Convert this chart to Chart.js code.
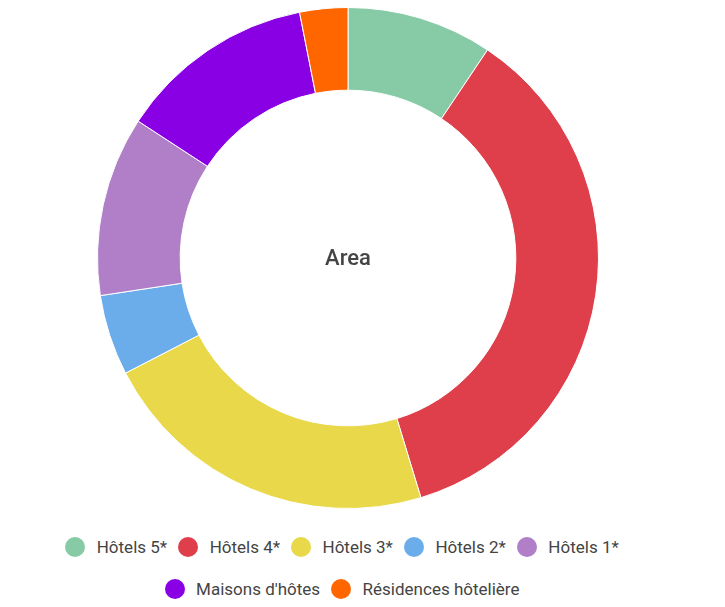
<!DOCTYPE html>
<html>
<head>
<meta charset="utf-8">
<script src="https://cdn.jsdelivr.net/npm/chart.js@4"></script>
<style>
  body { margin: 0; background: #fff; font-family: Roboto, sans-serif; }
  #wrap { position: relative; width: 696px; height: 509px; }
  #legend {
    position: absolute; left: 0; top: 537px; width: 684px;
    display: flex; flex-wrap: wrap; justify-content: center; row-gap: 22px;
  }
  .item { display: flex; align-items: center; margin: 0 5.5px; height: 20px; }
  .dot { width: 20px; height: 20px; border-radius: 50%; margin-right: 11.5px; }
  .txt { font-size: 17px; line-height: 20px; color: #444; white-space: nowrap; }
</style>
</head>
<body>
<div id="wrap"><canvas id="areaChart"></canvas></div>
<div id="legend"></div>
<script>
const labels = ['Hôtels 5*', 'Hôtels 4*', 'Hôtels 3*', 'Hôtels 2*', 'Hôtels 1*', "Maisons d'hôtes", 'Résidences hôtelière']
const shares = [9.4, 35.9, 22.1, 5.2, 11.6, 12.7, 3.1]
const colors = ['#86cba6', '#df3f4b', '#e8d84a', '#6aadea', '#b07fc8', '#8a00e5', '#ff6600']
const centerLabel = 'Area'

const ctx = document.getElementById('areaChart').getContext('2d')
const legendBox = document.getElementById('legend')

// draws the label in the hole of the donut
const centerText = {
  id: 'centerText',
  afterDatasetsDraw (chart) {
    const meta = chart.getDatasetMeta(0)
    if (!meta.data.length) return
    const { x, y } = meta.data[0]
    const c = chart.ctx
    c.save()
    c.font = '500 22px Roboto'
    c.fillStyle = '#444'
    c.textAlign = 'center'
    c.textBaseline = 'middle'
    c.fillText(centerLabel, x, y + 1.5)
    c.restore()
  }
}

// html legend built from the chart's own legend items
const htmlLegend = {
  id: 'htmlLegend',
  afterUpdate (chart) {
    legendBox.innerHTML = ''
    const items = chart.options.plugins.legend.labels.generateLabels(chart)
    items.forEach((item) => {
      const el = document.createElement('div')
      el.className = 'item'
      const dot = document.createElement('span')
      dot.className = 'dot'
      dot.style.background = item.fillStyle
      const txt = document.createElement('span')
      txt.className = 'txt'
      txt.textContent = item.text
      el.appendChild(dot)
      el.appendChild(txt)
      legendBox.appendChild(el)
    })
  }
}

const chart = new Chart(ctx, {
  type: 'doughnut',
  data: {
    labels: labels,
    datasets: [
      {
        data: shares,
        backgroundColor: colors,
        borderColor: '#fff',
        borderWidth: 1
      }
    ]
  },
  options: {
    responsive: true,
    maintainAspectRatio: false,
    animation: false,
    cutout: '67%',
    layout: { padding: { top: 7 } },
    plugins: {
      tooltip: { enabled: false },
      legend: { display: false }
    }
  },
  plugins: [centerText, htmlLegend]
})
</script>
</body>
</html>
